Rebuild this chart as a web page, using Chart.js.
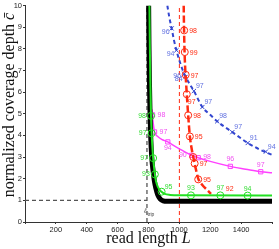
<!DOCTYPE html>
<html>
<head>
<meta charset="utf-8">
<script src="https://cdn.jsdelivr.net/npm/chart.js@4"></script>
<style>
  html, body { margin: 0; padding: 0; background: #fff; }
</style>
</head>
<body>
<canvas id="chart" width="279" height="249"></canvas>
<script>
// reference lines
const lTrip = 790;
const cFloor = 1;
const redAsym = 1000;

// black curve
const blackL = [801, 803, 806, 810, 815, 821, 829, 838, 848, 860, 875, 895, 920, 1600];
const blackC = [10, 8.2, 6.5, 5.0, 3.8, 3.0, 2.4, 1.9, 1.55, 1.25, 1.07, 0.98, 0.96, 0.96];

// green curve + markers
const greenL = [806, 809, 812, 816, 821, 828, 837, 848, 862, 880, 905, 940, 1000, 1600];
const greenC = [10, 8, 6.5, 5.0, 4.0, 3.15, 2.45, 1.9, 1.6, 1.42, 1.3, 1.25, 1.23, 1.22];
const greenMarkL = [816, 820, 830, 841, 885, 1075, 1265, 1442];
const greenMarkC = [4.9, 4.1, 2.95, 2.2, 1.4, 1.23, 1.23, 1.22];
const greenText = ['98', '97', '97', '93', '95', '93', '97', '94'];

// red curve + markers
const redL = [1028, 1030, 1033, 1037, 1042, 1048, 1057, 1068, 1078, 1090, 1105, 1122, 1150, 1180, 1205];
const redC = [10, 9.0, 8.0, 7.2, 6.6, 5.9, 4.93, 3.95, 3.45, 3.0, 2.5, 2.0, 1.7, 1.48, 1.3];
const redMarkL = [1031, 1035, 1041, 1048, 1057, 1068, 1090, 1099, 1122, 1300];
const redMarkC = [8.85, 7.85, 6.8, 5.9, 4.93, 3.95, 3.0, 2.7, 1.97, 1.22];
const redText = ['98', '99', '97', '97', '98', '95', '', '97', '95', '92'];

// blue curve + markers
const blueL = [922, 935, 950, 965, 981, 1005, 1031, 1060, 1094, 1149, 1200, 1245, 1343, 1443, 1520, 1600];
const blueC = [10, 9.45, 8.94, 8.4, 7.93, 7.35, 6.85, 6.45, 6.05, 5.31, 4.95, 4.65, 4.15, 3.65, 3.35, 3.1];
const blueMarkL = [950, 981, 1031, 1040, 1094, 1149, 1245, 1343, 1443, 1560];
const blueMarkC = [8.94, 7.93, 6.85, 6.7, 6.05, 5.31, 4.65, 4.15, 3.65, 3.25];
const blueText = ['96', '94', '96', '84', '97', '97', '98', '97', '91', '94'];

// magenta curve + markers
const magL = [822, 830, 839, 860, 890, 925, 959, 1000, 1068, 1122, 1200, 1330, 1430, 1527, 1600];
const magC = [5.2, 4.6, 4.16, 3.95, 3.8, 3.7, 3.55, 3.38, 3.12, 2.97, 2.8, 2.57, 2.44, 2.32, 2.27];
const magMarkL = [826, 839, 925, 1080, 1122, 1330, 1527];
const magMarkC = [4.95, 4.16, 3.7, 3.08, 2.97, 2.57, 2.32];
const magText = ['98', '97', '94', '90', '98', '96', '97'];

const pts = (xs, ys) => xs.map((x, i) => ({ x: x, y: ys[i] }));

const GREEN = '#22e022', RED = '#ff2a10', BLUE = '#3346d0', MAG = '#ff40ff';

function curve(data, color, width, dash) {
  return { type: 'scatter', data: data, showLine: true, borderColor: color, borderWidth: width,
    borderDash: dash || [], pointRadius: 0, cubicInterpolationMode: 'monotone', fill: false };
}
function marks(data, color, style, r, texts, textColor, pos) {
  return { type: 'scatter', data: data, showLine: false, pointStyle: style, pointRadius: r,
    pointBorderColor: color, pointBackgroundColor: 'rgba(0,0,0,0)', pointBorderWidth: 1,
    texts: texts, textColor: textColor, textPos: pos };
}

const datasets = [
  marks(pts(greenMarkL, greenMarkC), GREEN, 'circle', 3.5, greenText, '#33dd33',
    i => i < 4 ? [-5, 0, 'right'] : (i === 4 ? [7, -5, 'center'] : [0, -7, 'center'])),
  curve(pts(greenL, greenC), GREEN, 2),
  curve(pts(blackL, blackC), '#000', 5),
  Object.assign(marks(pts(redMarkL, redMarkC), RED, 'circle', 3.5, redText, RED,
    i => i === 3 ? [1, 8, 'left'] : (i === 9 ? [4, -7, 'center'] : [5, 1, 'left'])),
    { pointRadius: c => c.dataIndex === 9 ? 0 : 3.5 }),
  curve(pts(redL, redC), RED, 2.5, [7, 3]),
  marks(pts(magMarkL, magMarkC), MAG, 'rect', 3, magText, '#f050f0',
    i => [[5, 0, 'left'], [5, 0, 'left'], [0, 6, 'center'], [-5, 0, 'right'], [5, -1, 'left'], [0, -7, 'center'], [0, -7, 'center']][i]),
  curve(pts(magL, magC), MAG, 1.5),
  marks(pts(blueMarkL, blueMarkC), BLUE, 'crossRot', 3, blueText, '#6070e0',
    i => i < 2 ? [-2, 4, 'right'] : (i < 4 ? [-3, 2, 'right'] : [2, -5, 'left'])),
  curve(pts(blueL, blueC), BLUE, 2, [4, 3]),
  Object.assign(curve([{ x: lTrip, y: 0 }, { x: lTrip, y: 10 }], '#555', 1.3, [4, 3]), { cubicInterpolationMode: 'default', tension: 0 }),
  Object.assign(curve([{ x: 0, y: cFloor }, { x: lTrip, y: cFloor }], '#555', 1.3, [4, 3]), { cubicInterpolationMode: 'default', tension: 0 }),
  Object.assign(curve([{ x: redAsym, y: 0 }, { x: redAsym, y: 10 }], RED, 1, [4, 3]), { cubicInterpolationMode: 'default', tension: 0 })
];

const pointText = {
  id: 'pointText',
  afterDatasetsDraw(chart) {
    const ctx = chart.ctx;
    chart.data.datasets.forEach((ds, i) => {
      if (!ds.texts) return;
      const meta = chart.getDatasetMeta(i);
      ctx.save();
      ctx.font = '7px "Liberation Sans"';
      ctx.fillStyle = ds.textColor;
      ctx.textBaseline = 'middle';
      meta.data.forEach((el, j) => {
        const t = ds.texts[j];
        if (!t) return;
        const p = ds.textPos(j);
        ctx.textAlign = p[2];
        ctx.fillText(t, el.x + p[0], el.y + p[1]);
      });
      ctx.restore();
    });
  }
};

const TF = 16; // title font size
const titles = {
  id: 'titles',
  afterDraw(chart) {
    const ctx = chart.ctx;
    ctx.save();
    ctx.fillStyle = '#111';
    ctx.textBaseline = 'alphabetic';
    ctx.textAlign = 'left';
    // x title
    const a = 'read length ';
    ctx.font = 'italic ' + TF + 'px "Liberation Serif"';
    const wL = ctx.measureText('L').width;
    ctx.font = TF + 'px "Liberation Serif"';
    const wa = ctx.measureText(a).width;
    let x0 = 148.5 - (wa + wL) / 2;
    ctx.fillText(a, x0, 243);
    ctx.font = 'italic ' + TF + 'px "Liberation Serif"';
    ctx.fillText('L', x0 + wa, 243);
    // y title
    ctx.translate(14, 105);
    ctx.rotate(-Math.PI / 2);
    const b = 'normalized coverage depth ';
    ctx.font = TF + 'px "Liberation Serif"';
    const wb = ctx.measureText(b).width;
    ctx.font = 'italic ' + TF + 'px "Liberation Serif"';
    const wc = ctx.measureText('c\u0304').width;
    x0 = -(wb + wc) / 2;
    ctx.font = TF + 'px "Liberation Serif"';
    ctx.fillText(b, x0, 0);
    ctx.font = 'italic ' + TF + 'px "Liberation Serif"';
    ctx.fillText('c\u0304', x0 + wb, 0);
    ctx.restore();
    // l_trip label
    const xs = chart.scales.x, ys = chart.scales.y;
    ctx.save();
    ctx.fillStyle = '#444';
    ctx.font = 'italic 7px "Liberation Serif"';
    ctx.textAlign = 'right';
    ctx.fillText('\u2113', xs.getPixelForValue(lTrip), ys.getPixelForValue(0.4));
    ctx.font = '5px "Liberation Sans"';
    ctx.textAlign = 'left';
    ctx.fillText('trip', xs.getPixelForValue(lTrip) + 0.5, ys.getPixelForValue(0.3));
    ctx.restore();
  }
};

const tickFont = { family: '"Liberation Sans"', size: 7.5 };

new Chart(document.getElementById('chart'), {
  type: 'scatter',
  data: { datasets: datasets },
  options: {
    responsive: false,
    animation: false,
    devicePixelRatio: 1,
    layout: { padding: { top: 5, right: 7, left: 0, bottom: 0 } },
    plugins: { legend: { display: false }, tooltip: { enabled: false } },
    scales: {
      x: {
        type: 'linear', min: 0, max: 1600,
        afterFit: s => { s.height = 27; },
        ticks: { stepSize: 200, autoSkip: false, maxRotation: 0, padding: 1, color: '#222', font: tickFont,
          callback: v => (v > 0 && v < 1600) ? String(v) : '' },
        grid: { display: true, drawOnChartArea: false, tickLength: 2, color: '#333' },
        border: { color: '#333', width: 1 }
      },
      y: {
        type: 'linear', min: 0, max: 10,
        afterFit: s => { s.width = 25; },
        ticks: { stepSize: 1, padding: 1, color: '#222', font: tickFont },
        grid: { display: true, drawOnChartArea: false, tickLength: 2, color: '#333' },
        border: { color: '#333', width: 1 }
      }
    }
  },
  plugins: [pointText, titles]
});
</script>
</body>
</html>
